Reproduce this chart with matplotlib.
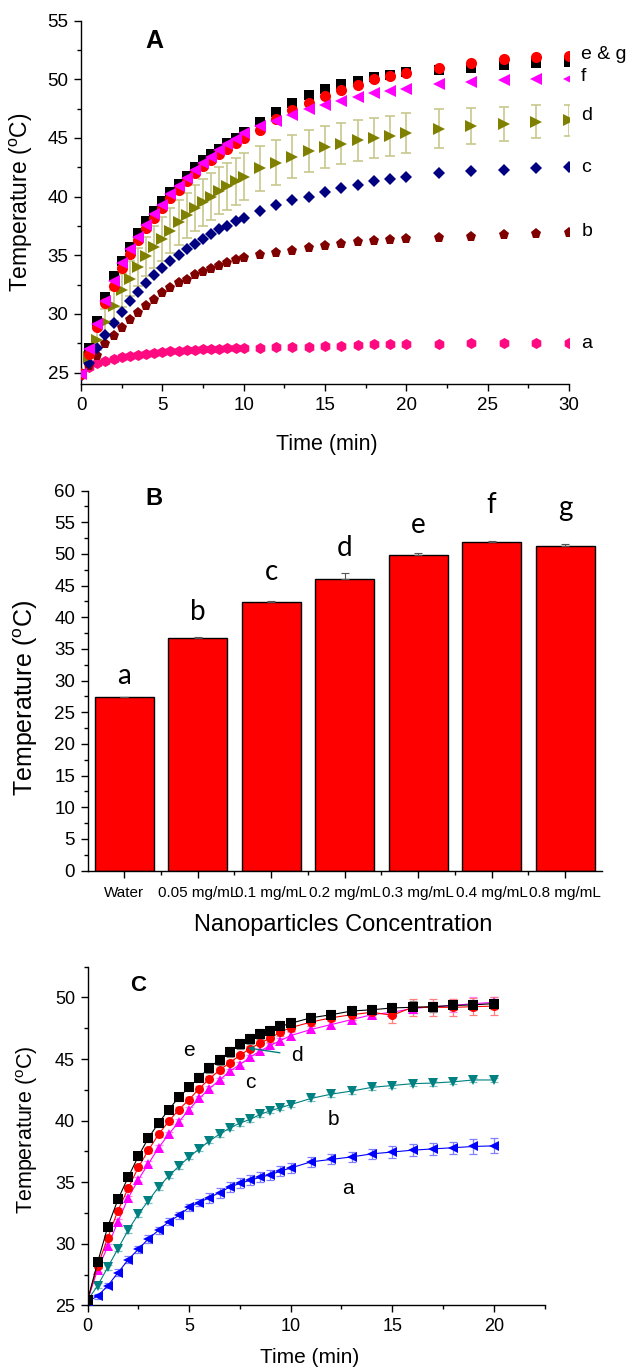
import matplotlib
matplotlib.use("Agg")
import matplotlib.pyplot as plt
from matplotlib.ticker import MultipleLocator, FixedLocator

plt.rcParams['font.family'] = ['Liberation Sans', 'DejaVu Sans']
plt.rcParams['mathtext.fontset'] = 'custom'
plt.rcParams['mathtext.rm'] = 'Liberation Sans'

# ---------------- Panel A data ----------------
time_a = [0, 0.5, 1, 1.5, 2, 2.5, 3, 3.5, 4, 4.5, 5, 5.5, 6, 6.5, 7, 7.5, 8, 8.5, 9, 9.5, 10,
          11, 12, 13, 14, 15, 16, 17, 18, 19, 20, 22, 24, 26, 28, 30]
a_water = [25.0, 25.5, 25.8, 26.0, 26.15, 26.3, 26.4, 26.5, 26.6, 26.7, 26.75, 26.8, 26.85, 26.9,
           26.95, 27.0, 27.0, 27.05, 27.1, 27.1, 27.1, 27.1, 27.15, 27.2, 27.2, 27.3, 27.3, 27.35,
           27.4, 27.4, 27.45, 27.45, 27.5, 27.5, 27.5, 27.5]
b_005 = [24.9, 25.6, 26.4, 27.4, 28.1, 28.8, 29.5, 30.1, 30.7, 31.2, 31.8, 32.2, 32.6, 32.9, 33.3,
         33.6, 33.8, 34.1, 34.35, 34.6, 34.8, 35.05, 35.2, 35.4, 35.6, 35.8, 36.0, 36.1, 36.2,
         36.3, 36.35, 36.5, 36.6, 36.75, 36.8, 36.9]
c_01 = [24.7, 25.8, 27.1, 28.2, 29.2, 30.2, 31.1, 31.9, 32.6, 33.3, 33.9, 34.5, 35.0, 35.5, 36.0,
        36.4, 36.8, 37.2, 37.5, 37.9, 38.2, 38.75, 39.25, 39.7, 40.0, 40.4, 40.7, 41.0, 41.3,
        41.5, 41.7, 42.0, 42.15, 42.3, 42.4, 42.5]
d_02 = [24.9, 26.3, 27.8, 29.3, 30.7, 32.0, 33.0, 34.0, 34.9, 35.7, 36.4, 37.1, 37.8, 38.4, 39.0,
        39.5, 40.0, 40.5, 40.9, 41.3, 41.7, 42.4, 42.9, 43.4, 43.9, 44.2, 44.5, 44.8, 45.0,
        45.2, 45.4, 45.8, 46.0, 46.2, 46.4, 46.5]
d_02_err = [0.3, 0.6, 0.9, 1.1, 1.3, 1.4, 1.5, 1.6, 1.7, 1.8, 1.85, 1.9, 1.9, 1.95, 1.95, 2.0, 2.0,
            2.0, 2.0, 2.0, 2.0, 1.95, 1.9, 1.85, 1.8, 1.8, 1.75, 1.75, 1.7, 1.7, 1.7, 1.65, 1.55,
            1.45, 1.4, 1.3]
e_03 = [24.9, 27.1, 29.4, 31.4, 33.2, 34.5, 35.7, 36.9, 37.9, 38.8, 39.6, 40.4, 41.1, 41.8, 42.5,
        43.1, 43.6, 44.1, 44.6, 45.0, 45.5, 46.4, 47.2, 48.0, 48.65, 49.15, 49.6, 49.9, 50.2,
        50.4, 50.6, 50.8, 51.0, 51.2, 51.4, 51.5]
g_08 = [24.9, 26.6, 28.9, 30.9, 32.4, 33.9, 35.1, 36.3, 37.3, 38.2, 39.0, 39.9, 40.6, 41.3, 42.0,
        42.6, 43.1, 43.6, 44.1, 44.6, 45.0, 45.7, 46.6, 47.4, 48.0, 48.6, 49.1, 49.5, 50.0,
        50.3, 50.5, 51.0, 51.4, 51.7, 51.9, 52.0]
f_04 = [24.9, 27.0, 29.1, 31.1, 32.8, 34.3, 35.5, 36.6, 37.6, 38.5, 39.3, 40.2, 40.9, 41.6, 42.3,
        42.9, 43.4, 43.95, 44.5, 44.95, 45.4, 46.0, 46.45, 47.0, 47.45, 47.8, 48.15, 48.5, 48.8,
        49.0, 49.2, 49.6, 49.8, 49.95, 50.0, 50.0]

# ---------------- Panel B data ----------------
conc_labels = ['Water', '0.05 mg/mL', '0.1 mg/mL', '0.2 mg/mL', '0.3 mg/mL', '0.4 mg/mL', '0.8 mg/mL']
bar_temp = [27.4, 36.8, 42.4, 46.0, 49.9, 51.9, 51.3]
bar_err = [0.0, 0.1, 0.1, 1.0, 0.2, 0.1, 0.2]
bar_letters = ['a', 'b', 'c', 'd', 'e', 'f', 'g']
letter_y = [30.7, 40.9, 47.2, 50.9, 54.6, 57.7, 57.2]

# ---------------- Panel C data ----------------
time_c = [0, 0.5, 1, 1.5, 2, 2.5, 3, 3.5, 4, 4.5, 5, 5.5, 6, 6.5, 7, 7.5, 8, 8.5, 9, 9.5, 10,
          11, 12, 13, 14, 15, 16, 17, 18, 19, 20]
c_e = [25.4, 28.5, 31.4, 33.6, 35.4, 37.1, 38.6, 39.8, 40.9, 41.9, 42.7, 43.5, 44.3, 44.95, 45.6,
       46.2, 46.65, 47.05, 47.3, 47.65, 47.9, 48.35, 48.6, 48.9, 49.0, 49.15, 49.2, 49.25, 49.35,
       49.4, 49.5]
c_e_err = [0.1, 0.2, 0.2, 0.3, 0.3, 0.3, 0.3, 0.3, 0.3, 0.3, 0.3, 0.4, 0.4, 0.4, 0.4, 0.4, 0.4,
           0.4, 0.4, 0.4, 0.4, 0.4, 0.4, 0.4, 0.4, 0.4, 0.5, 0.4, 0.4, 0.4, 0.4]
c_d = [25.4, 28.2, 30.5, 32.7, 34.5, 36.2, 37.6, 38.9, 39.95, 40.9, 41.7, 42.6, 43.4, 44.1, 44.7,
       45.3, 45.85, 46.3, 46.7, 47.2, 47.55, 48.0, 48.35, 48.6, 48.8, 48.55, 49.2, 49.2, 49.2,
       49.25, 49.3]
c_d_err = [0.1, 0.2, 0.2, 0.2, 0.2, 0.2, 0.2, 0.2, 0.2, 0.2, 0.2, 0.2, 0.2, 0.2, 0.2, 0.2, 0.2,
           0.2, 0.3, 0.3, 0.3, 0.3, 0.3, 0.4, 0.4, 0.6, 0.7, 0.7, 0.7, 0.7, 0.7]
c_c = [25.4, 27.9, 29.8, 31.8, 33.7, 35.2, 36.5, 37.8, 38.9, 39.9, 40.9, 41.8, 42.6, 43.3, 44.0,
       44.55, 45.15, 45.65, 46.1, 46.5, 46.9, 47.4, 47.8, 48.2, 48.6, 48.8, 49.1, 49.25, 49.35,
       49.5, 49.6]
c_c_err = [0.1, 0.2, 0.2, 0.2, 0.2, 0.2, 0.2, 0.2, 0.2, 0.2, 0.2, 0.2, 0.2, 0.2, 0.2, 0.2, 0.2,
           0.2, 0.2, 0.2, 0.3, 0.3, 0.3, 0.3, 0.3, 0.4, 0.4, 0.4, 0.5, 0.5, 0.4]
c_b = [25.4, 26.6, 28.1, 29.6, 31.1, 32.4, 33.5, 34.6, 35.5, 36.3, 37.05, 37.7, 38.35, 38.9, 39.4,
       39.8, 40.1, 40.5, 40.8, 41.05, 41.3, 41.8, 42.15, 42.4, 42.7, 42.85, 43.0, 43.05, 43.15,
       43.3, 43.3]
c_b_err = [0.1, 0.2, 0.2, 0.2, 0.2, 0.2, 0.2, 0.2, 0.2, 0.2, 0.2, 0.2, 0.2, 0.2, 0.2, 0.2, 0.2,
           0.2, 0.2, 0.2, 0.2, 0.2, 0.2, 0.2, 0.2, 0.2, 0.2, 0.2, 0.2, 0.2, 0.2]
c_a = [25.3, 25.75, 26.6, 27.65, 28.7, 29.55, 30.4, 31.1, 31.8, 32.3, 32.95, 33.35, 33.75, 34.15,
       34.6, 34.9, 35.15, 35.4, 35.6, 35.9, 36.15, 36.65, 36.85, 37.05, 37.3, 37.45, 37.6, 37.7,
       37.8, 37.9, 37.95]
c_a_err = [0.1, 0.2, 0.2, 0.3, 0.3, 0.3, 0.3, 0.3, 0.3, 0.3, 0.3, 0.3, 0.4, 0.4, 0.4, 0.4, 0.4,
           0.4, 0.4, 0.4, 0.4, 0.4, 0.4, 0.4, 0.4, 0.5, 0.5, 0.5, 0.5, 0.6, 0.6]

TEMP_LABEL = 'Temperature ($^{\\rm o}$C)'


def style_axis(ax, tick_size):
    for side in ('top', 'right'):
        ax.spines[side].set_visible(False)
    for side in ('left', 'bottom'):
        ax.spines[side].set_linewidth(1.0)
    ax.tick_params(which='major', direction='out', length=5, width=1.0,
                   labelsize=tick_size, pad=4)
    ax.tick_params(which='minor', direction='out', length=3, width=1.0)


fig = plt.figure(figsize=(6.35, 13.7), dpi=100)

# ---------------- Panel A ----------------
axA = fig.add_axes([0.1276, 0.7195, 0.7685, 0.2654])
axA.errorbar(time_a, d_02, yerr=d_02_err, fmt='none', ecolor='#c8c88c',
             elinewidth=1.2, capsize=3.5, capthick=1.2, zorder=2)
series_a = [
    (a_water, 'h', '#ff0a80', 8),
    (b_005, 'p', '#800000', 8),
    (c_01, 'D', '#000080', 6.5),
    (d_02, '>', '#808000', 8.5),
    (e_03, 's', '#000000', 7),
    (g_08, 'o', '#ff0000', 8),
    (f_04, '<', '#ff00ff', 8.5),
]
for vals, mk, col, ms in series_a:
    axA.plot(time_a, vals, linestyle='none', marker=mk, color=col, ms=ms,
             markeredgewidth=0, zorder=3)
axA.set_xlim(0, 30)
axA.set_ylim(24, 55)
axA.xaxis.set_major_locator(MultipleLocator(5))
axA.xaxis.set_minor_locator(MultipleLocator(2.5))
axA.yaxis.set_minor_locator(MultipleLocator(2.5))
axA.set_yticks([25, 30, 35, 40, 45, 50, 55])
style_axis(axA, 13.5)
axA.set_xlabel('Time (min)', fontsize=15.5)
axA.xaxis.set_label_coords(0.503, -0.137)
axA.set_ylabel(TEMP_LABEL, fontsize=16.5)
axA.yaxis.set_label_coords(-0.094, 0.5)
axA.text(4.5, 53.3, 'A', fontsize=18, fontweight='bold', ha='center', va='center')
right_labels = [('e & g', 52.15), ('f', 50.2), ('d', 46.9), ('c', 42.5), ('b', 37.0), ('a', 27.5)]
for txt, yv in right_labels:
    axA.text(30.75, yv, txt, fontsize=14, ha='left', va='center', clip_on=False)

# ---------------- Panel B ----------------
axB = fig.add_axes([0.1378, 0.3645, 0.8102, 0.2774])
xpos = list(range(len(conc_labels)))
axB.bar(xpos, bar_temp, width=0.8, color='#ff0000', edgecolor='#000000', linewidth=1.0,
        zorder=2)
axB.errorbar(xpos, bar_temp, yerr=[[0] * len(bar_err), bar_err], fmt='none',
             ecolor='#555555', elinewidth=0.8, capsize=3, capthick=0.8, zorder=3)
for xi, lt, ly in zip(xpos, bar_letters, letter_y):
    axB.text(xi, ly, lt, fontsize=20, ha='center', va='center', family=['Lato', 'DejaVu Sans'])
axB.set_xlim(-0.5, 6.5)
axB.set_ylim(0, 60)
axB.set_xticks(xpos)
axB.set_xticklabels(conc_labels)
axB.xaxis.set_minor_locator(FixedLocator([0.5, 1.5, 2.5, 3.5, 4.5, 5.5]))
axB.yaxis.set_major_locator(MultipleLocator(5))
axB.yaxis.set_minor_locator(MultipleLocator(2.5))
style_axis(axB, 13.5)
axB.tick_params(axis='x', which='major', labelsize=11, pad=6)
axB.text(0.4, 58.8, 'B', fontsize=17, fontweight='bold', ha='center', va='center')
axB.set_ylabel(TEMP_LABEL, fontsize=18)
axB.yaxis.set_label_coords(-0.092, 0.454)
axB.set_xlabel('Nanoparticles Concentration', fontsize=17)
axB.xaxis.set_label_coords(0.497, -0.113)

# ---------------- Panel C ----------------
axC = fig.add_axes([0.1378, 0.0472, 0.7198, 0.2472])
series_c = [
    (c_a, c_a_err, '<', '#0000ff', '#8080ff'),
    (c_b, c_b_err, 'v', '#008080', '#80c0c0'),
    (c_c, c_c_err, '^', '#ff00ff', '#ff80ff'),
    (c_d, c_d_err, 'o', '#ff0000', '#ff8080'),
    (c_e, c_e_err, 's', '#000000', '#808080'),
]
for vals, errs, mk, col, ecol in series_c:
    axC.errorbar(time_c, vals, yerr=errs, fmt='none', ecolor=ecol, elinewidth=0.9,
                 capsize=3, capthick=0.9, zorder=2)
    axC.plot(time_c, vals, color=col, lw=0.8, marker=mk, ms=6.5, markeredgewidth=0, zorder=3)
axC.set_xlim(0, 22.5)
axC.set_ylim(25, 52.5)
axC.xaxis.set_major_locator(MultipleLocator(5))
axC.xaxis.set_minor_locator(MultipleLocator(2.5))
axC.yaxis.set_major_locator(MultipleLocator(5))
axC.yaxis.set_minor_locator(MultipleLocator(2.5))
style_axis(axC, 13)
axC.set_xlabel('Time (min)', fontsize=15)
axC.xaxis.set_label_coords(0.487, -0.125)
axC.set_ylabel(TEMP_LABEL, fontsize=15.5)
axC.yaxis.set_label_coords(-0.104, 0.52)
axC.text(2.5, 51.0, 'C', fontsize=16, fontweight='bold', ha='center', va='center')
axC.text(5.0, 45.7, 'e', fontsize=15, ha='center', va='center')
axC.text(8.0, 43.1, 'c', fontsize=15, ha='center', va='center')
axC.text(12.1, 40.1, 'b', fontsize=15, ha='center', va='center')
axC.text(12.8, 34.5, 'a', fontsize=15, ha='center', va='center')
axC.annotate('d', xy=(7.9, 45.9), xytext=(10.3, 45.3), fontsize=15, ha='center', va='center',
             arrowprops=dict(arrowstyle='-|>', color='#008080', lw=1.0, mutation_scale=7,
                             shrinkA=6, shrinkB=0))

fig.savefig('out.png', dpi=100)
